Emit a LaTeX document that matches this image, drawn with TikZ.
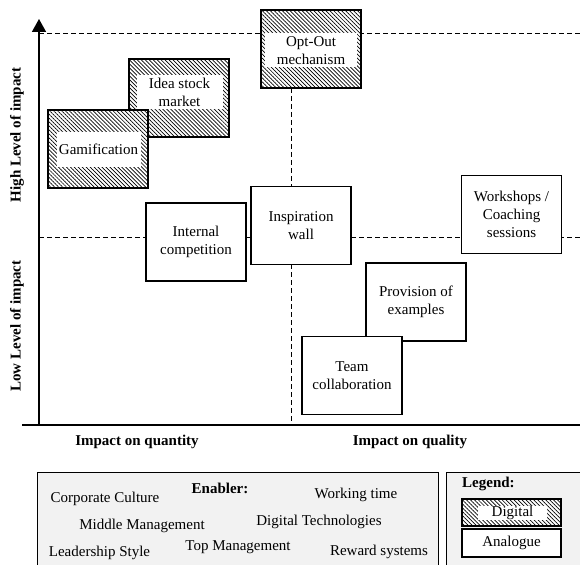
\documentclass[tikz,border=0pt]{standalone}
\usepackage{fontspec}
\setmainfont{Liberation Serif}
\usetikzlibrary{patterns.meta,arrows.meta}
\definecolor{panelgray}{HTML}{F2F2F2}
\begin{document}
\begin{tikzpicture}[x=1pt,y=-1pt,
  every node/.style={font=\fontsize{15}{18}\selectfont},
  anabox/.style={draw, line width=1.1pt, fill=white, minimum width=100pt,
    minimum height=78pt, align=center, inner sep=0pt},
  digibox/.style={draw, line width=1.1pt, preaction={fill=white},
    pattern={Lines[angle=-45,distance=2.8pt,line width=0.7pt]},
    minimum width=100pt, minimum height=78pt, inner sep=0pt},
  digiband/.style={fill=white, minimum width=86pt, minimum height=34pt,
    align=center, inner sep=0pt},
  dashline/.style={dashed, dash pattern=on 5pt off 3pt, line width=0.6pt},
  axisline/.style={line width=1.6pt},
  axislbl/.style={font=\fontsize{15}{18}\selectfont\bfseries},
  panel/.style={draw, line width=1.1pt, fill=panelgray, anchor=north west,
    inner sep=0pt},
  enab/.style={font=\fontsize{15}{18}\selectfont, inner sep=0pt}]
\useasboundingbox (0,0) rectangle (580,564);

% reference lines of the grid
\coordinate (topL) at (39,33);
\coordinate (topR) at (580,33);
\coordinate (midL) at (39,237);
\coordinate (midR) at (580,237);
\coordinate (vtop) at (291.5,88);
\coordinate (vbot) at (291.5,425);
\draw[dashline] (topL) -- (topR);
\draw[dashline] (midL) -- (midR);
\draw[dashline] (vtop) -- (vbot);

% axes
\coordinate (origin) at (39,425);
\coordinate (yend) at (39,19);
\coordinate (xstart) at (22,425);
\coordinate (xend) at (580,425);
\draw[axisline] (xstart) -- (xend);
\draw[axisline, -{Triangle[length=13pt,width=14pt]}] (origin) -- (yend);

% axis labels
\node[axislbl] (qty) at (137,442) {Impact on quantity};
\node[axislbl] (qlt) at (410,442) {Impact on quality};
\node[axislbl, rotate=90] (high) at (17,135) {High Level of impact};
\node[axislbl, rotate=90] (low) at (17,326) {Low Level of impact};

% digital measures
\node[digibox] (optout) at (311,49) {};
\node[digiband, minimum width=92pt] (optoutt) at (311,50.5) {Opt-Out\\mechanism};
\node[digibox] (idea) at (179,98) {};
\node[digiband] (ideat) at (179.5,92) {Idea stock\\market};
\node[digibox] (gam) at (98,149) {};
\node[digiband, minimum width=84pt] (gamt) at (98.5,149.5) {Gamification};

% analogue measures
\node[anabox] (intcomp) at (196,242) {Internal\\competition};
\node[anabox] (inspir) at (301,225.5) {Inspiration\\wall};
\node[anabox] (workshop) at (511.5,214.5) {Workshops /\\Coaching\\sessions};
\node[anabox] (provision) at (416,302) {Provision of\\examples};
\node[anabox] (team) at (352,375.5) {Team\\collaboration};

% enabler panel
\node[panel, minimum width=401pt, minimum height=100pt] (enabler) at (37,472) {};
\node[enab, font=\fontsize{15}{18}\selectfont\bfseries] (enabtitle) at (220,488) {Enabler:};
\node[enab] (culture) at (105,499) {Corporate Culture};
\node[enab] (worktime) at (356,495) {Working time};
\node[enab] (middle) at (142,526) {Middle Management};
\node[enab] (digtech) at (319,522) {Digital Technologies};
\node[enab] (leader) at (99.5,553) {Leadership Style};
\node[enab] (topman) at (238,547) {Top Management};
\node[enab] (reward) at (379,552) {Reward systems};

% legend panel
\node[panel, minimum width=140pt, minimum height=100pt] (legend) at (446,472) {};
\node[enab, font=\fontsize{15}{18}\selectfont\bfseries, anchor=west] (legtitle) at (462,484) {Legend:};
\node[digibox, minimum width=99pt, minimum height=27pt] (legdig) at (511.5,512.5) {};
\node[fill=white, minimum width=69pt, minimum height=13pt, inner sep=0pt] (legdigt) at (512.5,513) {Digital};
\node[anabox, minimum width=99pt, minimum height=28pt] (legana) at (511.5,543) {Analogue};
\end{tikzpicture}
\end{document}
